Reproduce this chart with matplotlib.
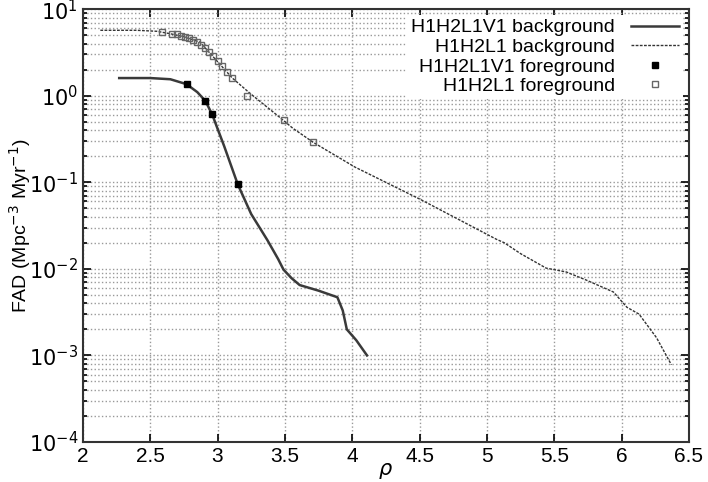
import numpy as np
import matplotlib.pyplot as plt

plt.rcParams['font.family'] = ['Liberation Sans', 'DejaVu Sans']

# H1H2L1V1 background (solid)
rho_v = [2.27, 2.5, 2.65, 2.77, 2.85, 2.91, 2.96, 3.05, 3.15, 3.25, 3.37, 3.45, 3.49,
         3.55, 3.61, 3.75, 3.89, 3.93, 3.96, 4.03, 4.11]
fad_v = [1.6, 1.6, 1.55, 1.36, 1.1, 0.87, 0.61, 0.26, 0.095, 0.043, 0.0215, 0.013, 0.0098,
         0.0078, 0.0065, 0.0056, 0.0047, 0.0033, 0.0020, 0.0015, 0.001]

# H1H2L1 background (dashed)
rho_n = [2.13, 2.4, 2.55, 2.65, 2.75, 2.87, 2.99, 3.11, 3.24, 3.46, 3.56, 3.71, 4.02,
         4.51, 5.07, 5.13, 5.25, 5.44, 5.59, 5.74, 5.94, 6.04, 6.13, 6.26, 6.37]
fad_n = [5.7, 5.7, 5.55, 5.2, 4.8, 4.16, 2.58, 1.6, 1.07, 0.566, 0.42, 0.29, 0.15,
         0.063, 0.022, 0.020, 0.015, 0.0102, 0.0092, 0.0074, 0.0054, 0.0036, 0.0030,
         0.0016, 0.00078]

# foreground points
fg_v_rho = [2.77, 2.91, 2.96, 3.15]
fg_v_fad = [1.36, 0.87, 0.61, 0.095]
fg_n_rho = [2.59, 2.66, 2.70, 2.73, 2.76, 2.79, 2.82, 2.85, 2.88, 2.91, 2.94, 2.97,
            3.0, 3.03, 3.07, 3.11, 3.22, 3.49, 3.71]
fg_n_fad = [5.4, 5.2, 5.1, 4.95, 4.8, 4.6, 4.4, 4.2, 3.9, 3.6, 3.2, 2.85,
            2.5, 2.2, 1.9, 1.6, 1.0, 0.52, 0.29]

fig = plt.figure(figsize=(7.08, 4.82), dpi=100)
ax = fig.add_axes([0.117, 0.083, 0.856, 0.898])

ax.plot(rho_v, fad_v, '-', color='#3a3a3a', lw=1.8, label='H1H2L1V1 background')
ax.plot(rho_n, fad_n, '--', color='#333333', lw=1.0, dashes=(2, 1), label='H1H2L1 background')
ax.plot(fg_v_rho, fg_v_fad, 's', color='black', ms=5, ls='none', label='H1H2L1V1 foreground')
ax.plot(fg_n_rho, fg_n_fad, 's', mfc='none', mec='#666666', ms=5, mew=1, ls='none',
        label='H1H2L1 foreground')

ax.set_yscale('log')
ax.set_xlim(2, 6.5)
ax.set_ylim(1e-4, 10)
ax.set_xticks(np.arange(2, 6.51, 0.5))
ax.set_xticklabels(['2', '2.5', '3', '3.5', '4', '4.5', '5', '5.5', '6', '6.5'])
ax.set_yticks([1e-4, 1e-3, 1e-2, 1e-1, 1, 10])
ax.set_yticklabels([r'$10^{-4}$', r'$10^{-3}$', r'$10^{-2}$', r'$10^{-1}$', r'$10^{0}$', r'$10^{1}$'])
ax.tick_params(which='both', direction='in', top=True, right=True, labelsize=15, width=1.2)
ax.tick_params(which='major', length=6)
ax.tick_params(which='minor', length=3)
ax.grid(which='major', color='#999999', ls=':', lw=1)
ax.grid(which='minor', axis='y', color='#999999', ls=':', lw=1)
for s in ax.spines.values():
    s.set_linewidth(1.5)
    s.set_color('#333333')

ax.set_ylabel('FAD (Mpc$^{-3}$ Myr$^{-1}$)', fontsize=14)
ax.yaxis.set_label_coords(-0.083, 0.5)
fig.text(0.545, 0.002, r'$\rho$', fontsize=15, va='bottom', ha='center')

leg = ax.legend(loc='upper right', markerfirst=False, fontsize=14, frameon=True,
                fancybox=False, edgecolor='none', framealpha=1, borderpad=0.2,
                labelspacing=0.1, handlelength=2.5, borderaxespad=0.3)

fig.savefig('out.png', dpi=100)
